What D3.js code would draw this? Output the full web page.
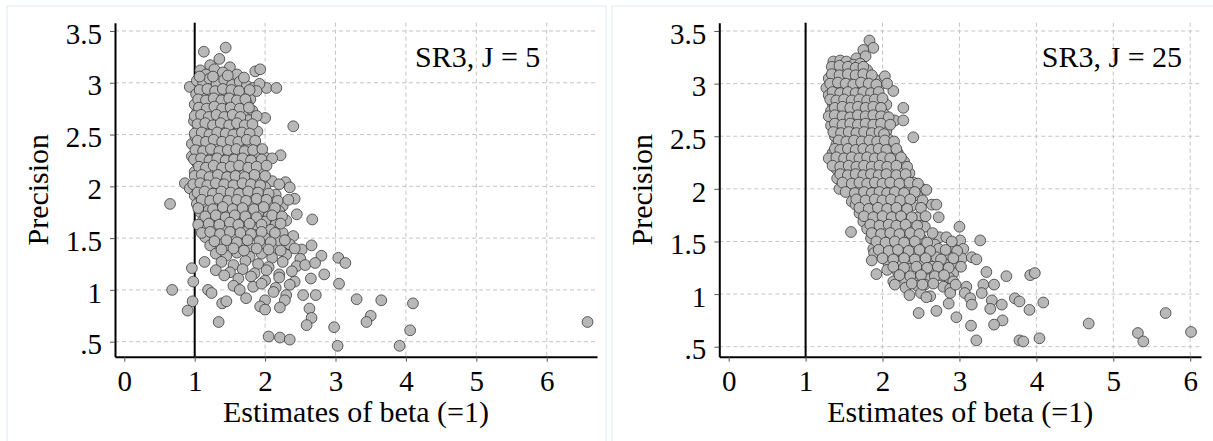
<!DOCTYPE html>
<html>
<head>
<meta charset="utf-8">
<script src="https://cdn.jsdelivr.net/npm/d3@7"></script>
<style>
  body { margin: 0; background: #fff; }
  svg text { font-family: "Liberation Serif", "Times New Roman", serif; fill: #000; }
</style>
</head>
<body>
<svg id="chart" width="1213" height="441"></svg>
<script>
// tick values / labels shared by both panels
const xTicks = [0, 1, 2, 3, 4, 5, 6]
const xTickLabels = ['0', '1', '2', '3', '4', '5', '6']
const yTicks = [0.5, 1, 1.5, 2, 2.5, 3, 3.5]
const yTickLabels = ['.5', '1', '1.5', '2', '2.5', '3', '3.5']
const refLine = 1
const xTitle = 'Estimates of beta (=1)'
const yTitle = 'Precision'
const labelJ5 = 'SR3, J = 5'
const labelJ25 = 'SR3, J = 25'

// [estimate, precision]
const sr3J5 = [
  [1.13,3.30],[1.44,3.34],[1.35,3.23],[1.22,3.17],[1.08,3.12],[1.28,3.13],[1.50,3.15],[1.16,3.08],[1.40,3.10],[1.60,3.08],[1.86,3.11],[1.93,3.13],
  [0.93,2.96],[1.03,3.02],[1.12,3.00],[1.21,3.04],[1.31,2.99],[1.42,3.03],[1.53,2.98],[1.64,3.01],[1.74,2.97],[1.83,2.95],[2.02,2.95],[2.16,2.95],[1.92,2.99],
  [1.02,2.89],[1.12,2.86],[1.23,2.90],[1.34,2.87],[1.46,2.91],[1.57,2.86],[1.69,2.89],[1.79,2.84],[1.88,2.92],
  [1.00,2.79],[1.09,2.82],[1.19,2.78],[1.30,2.81],[1.41,2.77],[1.52,2.82],[1.63,2.78],[1.74,2.80],
  [1.03,2.71],[1.14,2.73],[1.25,2.69],[1.36,2.74],[1.47,2.70],[1.59,2.72],[1.70,2.68],[1.82,2.73],
  [0.99,2.63],[1.10,2.65],[1.20,2.61],[1.31,2.64],[1.42,2.60],[1.54,2.66],[1.66,2.62],[1.77,2.64],[2.00,2.66],
  [1.05,2.56],[1.16,2.53],[1.27,2.57],[1.38,2.54],[1.50,2.58],[1.61,2.52],[1.72,2.55],[1.89,2.53],[2.40,2.58],
  [0.96,2.41],[1.01,2.48],[1.11,2.46],[1.22,2.49],[1.33,2.45],[1.45,2.48],[1.56,2.44],[1.68,2.47],[1.80,2.43],
  [1.07,2.39],[1.18,2.37],[1.29,2.41],[1.41,2.38],[1.53,2.40],[1.65,2.36],[1.77,2.39],[1.90,2.35],
  [0.96,2.29],[1.04,2.31],[1.13,2.29],[1.24,2.33],[1.36,2.30],[1.48,2.28],[1.60,2.32],[1.72,2.29],[1.85,2.31],[2.00,2.28],[2.22,2.30],
  [1.03,2.23],[1.15,2.21],[1.27,2.25],[1.39,2.22],[1.50,2.20],[1.62,2.24],[1.75,2.21],[1.90,2.23],
  [1.00,2.14],[1.10,2.17],[1.21,2.13],[1.33,2.16],[1.45,2.12],[1.57,2.15],[1.70,2.11],[1.82,2.16],[1.95,2.13],
  [1.05,2.06],[1.16,2.08],[1.27,2.04],[1.40,2.07],[1.52,2.03],[1.65,2.06],[1.78,2.02],[1.92,2.07],[2.10,2.05],
  [0.86,2.03],[0.93,1.98],[1.02,2.00],[1.12,1.96],[1.24,2.00],[1.35,1.97],[1.48,2.01],[1.60,1.96],[1.73,1.99],[1.87,1.95],[2.00,1.99],[2.29,2.04],[2.35,1.99],
  [1.00,1.91],[1.08,1.88],[1.20,1.92],[1.32,1.89],[1.45,1.93],[1.57,1.88],[1.70,1.91],[1.82,1.87],[1.97,1.90],[2.15,1.92],[2.42,1.88],
  [0.65,1.83],[1.03,1.83],[1.15,1.80],[1.27,1.84],[1.40,1.81],[1.52,1.85],[1.65,1.79],[1.80,1.83],[1.95,1.80],[2.10,1.84],[2.25,1.81],
  [1.08,1.75],[1.20,1.77],[1.33,1.73],[1.47,1.76],[1.60,1.72],[1.75,1.77],[1.90,1.74],[2.05,1.71],[2.20,1.76],[2.45,1.73],
  [1.12,1.67],[1.25,1.69],[1.38,1.65],[1.52,1.68],[1.65,1.64],[1.82,1.69],[2.00,1.66],[2.15,1.63],[2.30,1.67],[2.67,1.68],
  [1.05,1.63],[1.18,1.59],[1.30,1.61],[1.45,1.57],[1.58,1.60],[1.72,1.56],[1.90,1.59],[2.08,1.58],[2.25,1.55],
  [1.15,1.51],[1.28,1.53],[1.40,1.49],[1.55,1.52],[1.70,1.48],[1.85,1.53],[2.00,1.50],[2.20,1.47],[2.40,1.52],
  [1.22,1.43],[1.35,1.45],[1.50,1.41],[1.65,1.44],[1.80,1.40],[1.98,1.43],[2.12,1.39],[2.35,1.44],[2.52,1.39],[2.66,1.43],
  [1.30,1.35],[1.45,1.33],[1.60,1.36],[1.78,1.32],[1.95,1.35],[2.10,1.31],[2.30,1.34],[2.50,1.30],[2.80,1.33],
  [1.14,1.27],[1.38,1.27],[1.55,1.24],[1.72,1.28],[1.90,1.25],[2.05,1.22],[2.25,1.27],[2.45,1.23],[2.57,1.24],[2.71,1.26],[3.04,1.31],[3.14,1.26],
  [0.96,1.21],[1.30,1.19],[1.50,1.17],[1.68,1.20],[1.85,1.16],[2.02,1.19],[2.20,1.15],[2.38,1.18],[2.84,1.15],
  [1.42,1.14],[1.62,1.11],[1.80,1.13],[2.00,1.09],[2.20,1.12],[2.42,1.08],[2.65,1.11],[3.05,1.06],
  [0.98,1.08],[1.55,1.04],[1.83,1.03],[1.95,1.06],[2.15,1.02],[2.35,1.05],
  [0.68,1.00],[1.19,1.00],[1.24,0.97],[1.64,1.00],[2.12,0.98],[2.30,0.95],[2.54,0.95],[2.72,0.95],
  [0.97,0.89],[1.39,0.87],[1.45,0.89],[1.73,0.92],[2.00,0.90],[2.28,0.90],[3.30,0.91],[3.65,0.90],[4.10,0.87],
  [0.90,0.80],[1.93,0.84],[2.00,0.81],[2.21,0.83],[2.63,0.82],
  [1.34,0.69],[2.66,0.73],[2.59,0.66],[3.50,0.75],[3.44,0.69],[2.98,0.64],[4.06,0.61],[6.58,0.69],
  [2.05,0.55],[2.21,0.54],[2.35,0.52],[3.03,0.46],[3.91,0.46]
]

// the packed middle of the J = 5 cloud
const sr3J5Core = [
  [1.07,3.06],[1.26,3.06],[1.47,3.07],[1.70,3.05],
  [1.07,2.93],[1.18,2.94],[1.29,2.92],[1.40,2.94],[1.52,2.93],[1.63,2.92],[1.78,2.93],
  [1.05,2.84],[1.16,2.83],[1.27,2.85],[1.38,2.83],[1.49,2.85],[1.60,2.83],[1.72,2.84],
  [1.06,2.76],[1.17,2.75],[1.28,2.77],[1.39,2.75],[1.51,2.76],[1.64,2.75],[1.77,2.76],
  [1.00,2.68],[1.09,2.69],[1.20,2.67],[1.31,2.69],[1.42,2.67],[1.54,2.69],[1.65,2.67],[1.88,2.68],
  [1.04,2.60],[1.15,2.61],[1.26,2.59],[1.37,2.61],[1.49,2.59],[1.60,2.61],[1.71,2.59],[1.82,2.60],
  [1.00,2.51],[1.10,2.52],[1.21,2.50],[1.32,2.52],[1.44,2.51],[1.55,2.50],[1.67,2.52],[1.78,2.51],
  [1.04,2.44],[1.16,2.43],[1.27,2.45],[1.39,2.43],[1.51,2.44],[1.62,2.43],[1.74,2.45],[1.86,2.44],
  [1.01,2.35],[1.12,2.34],[1.23,2.36],[1.35,2.34],[1.47,2.35],[1.59,2.36],[1.71,2.34],[1.83,2.35],[1.96,2.36],
  [0.99,2.26],[1.09,2.27],[1.21,2.25],[1.32,2.27],[1.44,2.25],[1.56,2.26],[1.68,2.27],[1.80,2.25],[1.95,2.26],[2.10,2.27],
  [1.06,2.19],[1.16,2.18],[1.27,2.20],[1.39,2.18],[1.51,2.19],[1.63,2.20],[1.76,2.18],[1.88,2.19],[2.02,2.20],
  [1.00,2.10],[1.10,2.11],[1.21,2.09],[1.33,2.11],[1.46,2.09],[1.58,2.10],[1.71,2.09],[1.85,2.11],[2.00,2.10],
  [0.98,2.02],[1.08,2.03],[1.18,2.01],[1.30,2.03],[1.42,2.02],[1.55,2.01],[1.68,2.03],[1.80,2.02],[1.93,2.01],[2.20,2.02],
  [1.04,1.94],[1.14,1.95],[1.26,1.93],[1.38,1.95],[1.51,1.94],[1.63,1.93],[1.76,1.95],[1.90,1.94],[2.05,1.93],
  [1.10,1.87],[1.22,1.86],[1.34,1.88],[1.47,1.86],[1.60,1.87],[1.73,1.86],[1.88,1.88],[2.02,1.87],[2.18,1.86],[2.33,1.87],
  [1.05,1.79],[1.26,1.78],[1.40,1.80],[1.54,1.78],[1.68,1.79],[1.84,1.78],[1.98,1.80],[2.14,1.79],
  [1.15,1.71],[1.30,1.72],[1.44,1.70],[1.57,1.72],[1.72,1.71],[1.88,1.70],[2.10,1.72],[2.24,1.71],
  [1.20,1.64],[1.35,1.63],[1.50,1.65],[1.62,1.63],[1.78,1.64],[1.95,1.63],[2.22,1.64],
  [1.10,1.55],[1.22,1.56],[1.36,1.54],[1.50,1.56],[1.65,1.55],[1.80,1.54],[1.95,1.56],[2.14,1.55],
  [1.28,1.47],[1.45,1.48],[1.60,1.46],[1.75,1.48],[1.92,1.47],[2.08,1.46],[2.28,1.48],
  [1.38,1.39],[1.55,1.40],[1.70,1.38],[1.88,1.40],[2.05,1.39],[2.22,1.38],[2.42,1.40]
]

const sr3J25 = [
  [1.83,3.41],[1.88,3.34],[1.75,3.32],[1.66,3.24],[1.78,3.26],
  [1.36,3.21],[1.45,3.22],[1.53,3.21],[1.62,3.18],[1.71,3.19],
  [1.40,3.13],[1.50,3.11],[1.60,3.14],[1.70,3.10],[1.80,3.13],
  [1.30,3.05],[1.38,3.03],[1.48,3.06],[1.58,3.02],[1.68,3.05],[1.78,3.01],[1.90,3.04],[2.03,3.07],
  [1.27,2.96],[1.35,2.98],[1.45,2.94],[1.55,2.97],[1.65,2.93],[1.75,2.98],[1.85,2.95],[1.95,2.97],[2.14,2.93],
  [1.30,2.89],[1.40,2.87],[1.50,2.90],[1.60,2.86],[1.70,2.89],[1.80,2.85],[1.90,2.88],[2.00,2.84],
  [1.35,2.81],[1.45,2.83],[1.55,2.79],[1.65,2.82],[1.75,2.78],[1.85,2.81],[1.95,2.77],[2.05,2.80],
  [1.33,2.74],[1.42,2.71],[1.52,2.75],[1.62,2.72],[1.72,2.76],[1.82,2.70],[1.92,2.73],[2.02,2.71],[2.27,2.77],
  [1.35,2.65],[1.45,2.67],[1.55,2.63],[1.65,2.66],[1.75,2.62],[1.85,2.67],[1.95,2.64],[2.16,2.65],[2.27,2.65],
  [1.33,2.60],[1.43,2.57],[1.53,2.59],[1.63,2.55],[1.73,2.58],[1.83,2.56],[1.93,2.59],[2.05,2.55],
  [1.38,2.50],[1.48,2.48],[1.58,2.51],[1.68,2.47],[1.78,2.50],[1.88,2.46],[1.98,2.49],[2.08,2.47],[2.40,2.49],
  [1.40,2.42],[1.50,2.40],[1.60,2.43],[1.70,2.39],[1.80,2.41],[1.90,2.38],[2.00,2.42],[2.12,2.39],
  [1.35,2.34],[1.45,2.32],[1.55,2.35],[1.65,2.31],[1.75,2.34],[1.85,2.30],[1.95,2.33],[2.05,2.31],[2.20,2.34],
  [1.30,2.29],[1.42,2.26],[1.52,2.24],[1.62,2.27],[1.72,2.23],[1.82,2.26],[1.92,2.22],[2.02,2.25],[2.15,2.22],[2.28,2.26],
  [1.40,2.19],[1.50,2.17],[1.60,2.20],[1.70,2.16],[1.80,2.19],[1.90,2.15],[2.00,2.18],[2.10,2.14],[2.22,2.17],[2.35,2.15],
  [1.41,2.10],[1.55,2.08],[1.65,2.11],[1.75,2.07],[1.85,2.10],[1.95,2.06],[2.05,2.09],[2.15,2.05],[2.28,2.08],[2.40,2.06],
  [1.44,2.00],[1.58,2.02],[1.70,1.99],[1.80,2.03],[1.90,1.98],[2.00,2.01],[2.10,1.97],[2.22,2.00],[2.35,1.98],[2.51,2.00],[2.57,1.99],
  [1.60,1.88],[1.72,1.93],[1.84,1.90],[1.95,1.94],[2.05,1.91],[2.17,1.95],[2.30,1.92],[2.45,1.94],
  [1.65,1.85],[1.77,1.83],[1.88,1.86],[2.00,1.82],[2.12,1.85],[2.25,1.81],[2.38,1.84],[2.64,1.85],[2.70,1.85],
  [1.70,1.77],[1.82,1.79],[1.94,1.75],[2.05,1.78],[2.17,1.74],[2.30,1.77],[2.45,1.73],[2.73,1.73],
  [1.75,1.69],[1.87,1.71],[1.98,1.67],[2.10,1.70],[2.22,1.66],[2.35,1.69],[2.50,1.65],
  [1.59,1.59],[1.80,1.62],[1.92,1.60],[2.03,1.63],[2.15,1.59],[2.28,1.62],[2.42,1.58],[2.55,1.64],[3.00,1.64],
  [1.85,1.53],[1.97,1.55],[2.10,1.51],[2.22,1.54],[2.35,1.50],[2.50,1.53],[2.74,1.54],[2.83,1.54],[3.01,1.51],[3.27,1.51],
  [1.88,1.43],[2.00,1.46],[2.12,1.42],[2.25,1.45],[2.40,1.41],[2.55,1.44],[2.68,1.47],[2.73,1.43],[2.90,1.45],[3.05,1.43],
  [1.89,1.39],[2.05,1.37],[2.18,1.39],[2.32,1.35],[2.46,1.38],[2.60,1.34],[2.70,1.35],[2.88,1.35],[3.03,1.34],[3.16,1.35],[3.22,1.33],
  [1.86,1.32],[2.08,1.29],[2.22,1.31],[2.36,1.27],[2.50,1.30],[2.65,1.26],[2.80,1.29],[2.95,1.27],
  [2.06,1.23],[2.20,1.21],[2.35,1.24],[2.50,1.20],[2.65,1.22],[2.77,1.23],[2.92,1.20],[3.35,1.21],[2.55,1.20],
  [1.92,1.19],[2.14,1.12],[2.28,1.15],[2.42,1.11],[2.60,1.14],[2.75,1.18],[2.86,1.16],[2.92,1.12],[3.61,1.17],[3.92,1.18],[3.98,1.20],
  [2.16,1.09],[2.30,1.06],[2.45,1.08],[2.55,1.09],[2.79,1.07],[2.88,1.05],[3.09,1.07],[3.31,1.09],[3.45,1.09],
  [2.35,0.99],[2.50,1.01],[2.62,0.98],[2.88,1.01],[3.07,1.01],[3.29,1.01],[2.57,0.97],[3.14,0.96],
  [2.47,0.82],[2.70,0.84],[2.86,0.91],[3.16,0.90],[3.42,0.94],[3.40,0.86],[3.55,0.90],[3.72,0.96],[3.78,0.93],[3.91,0.85],[4.09,0.92],
  [2.96,0.78],[3.15,0.70],[3.56,0.75],[3.45,0.71],[4.68,0.72],[5.68,0.82],[6.01,0.64],[5.32,0.63],[5.39,0.55],
  [3.22,0.56],[3.78,0.56],[3.83,0.55],[4.04,0.58]
]

// the packed middle of the J = 25 cloud
const sr3J25Core = [
  [1.34,3.16],[1.44,3.17],[1.55,3.16],[1.65,3.15],[1.75,3.16],
  [1.34,3.09],[1.44,3.08],[1.55,3.09],[1.65,3.08],[1.75,3.09],[1.86,3.08],
  [1.32,3.00],[1.42,3.01],[1.52,3.00],[1.62,2.99],[1.72,3.01],[1.82,3.00],[1.92,2.99],[2.06,3.00],
  [1.35,2.92],[1.45,2.91],[1.55,2.92],[1.65,2.91],[1.75,2.92],[1.85,2.91],[1.95,2.92],
  [1.32,2.85],[1.40,2.84],[1.50,2.85],[1.60,2.84],[1.70,2.85],[1.80,2.84],[1.90,2.85],[2.00,2.86],
  [1.38,2.77],[1.48,2.78],[1.58,2.77],[1.68,2.78],[1.78,2.77],[1.88,2.78],[1.98,2.77],
  [1.30,2.69],[1.38,2.70],[1.48,2.69],[1.58,2.68],[1.68,2.70],[1.78,2.69],[1.88,2.70],[1.98,2.69],[2.08,2.68],
  [1.38,2.62],[1.48,2.61],[1.58,2.62],[1.68,2.61],[1.78,2.62],[1.88,2.61],[1.98,2.62],[2.10,2.61],
  [1.36,2.54],[1.46,2.53],[1.56,2.54],[1.66,2.53],[1.76,2.54],[1.86,2.53],[1.96,2.54],[2.02,2.52],
  [1.43,2.46],[1.53,2.45],[1.63,2.46],[1.73,2.45],[1.83,2.46],[1.93,2.45],[2.03,2.46],[2.15,2.45],
  [1.38,2.38],[1.45,2.37],[1.55,2.38],[1.65,2.37],[1.75,2.38],[1.85,2.37],[1.95,2.38],[2.05,2.37],[2.18,2.38],
  [1.40,2.30],[1.50,2.29],[1.60,2.30],[1.70,2.29],[1.80,2.30],[1.90,2.29],[2.00,2.30],[2.10,2.29],[2.24,2.30],
  [1.35,2.22],[1.45,2.21],[1.56,2.22],[1.66,2.21],[1.76,2.22],[1.86,2.21],[1.96,2.22],[2.06,2.21],[2.18,2.22],[2.32,2.21],
  [1.45,2.14],[1.55,2.13],[1.65,2.14],[1.75,2.13],[1.85,2.14],[1.95,2.13],[2.05,2.14],[2.18,2.13],[2.30,2.14],
  [1.48,2.06],[1.60,2.05],[1.70,2.06],[1.80,2.05],[1.90,2.06],[2.00,2.05],[2.10,2.06],[2.22,2.05],[2.35,2.06],[2.46,2.05],
  [1.52,1.97],[1.64,1.96],[1.76,1.97],[1.86,1.96],[1.96,1.97],[2.06,1.96],[2.16,1.97],[2.28,1.96],[2.42,1.97],
  [1.66,1.90],[1.78,1.89],[1.90,1.90],[2.00,1.89],[2.11,1.90],[2.23,1.89],[2.36,1.90],[2.52,1.89],
  [1.70,1.82],[1.82,1.81],[1.94,1.82],[2.06,1.81],[2.18,1.82],[2.32,1.81],[2.50,1.82],
  [1.76,1.74],[1.88,1.73],[2.00,1.74],[2.12,1.73],[2.24,1.74],[2.38,1.73],[2.56,1.74],
  [1.84,1.66],[1.96,1.65],[2.08,1.66],[2.18,1.65],[2.30,1.66],[2.45,1.65],
  [1.86,1.58],[1.98,1.57],[2.10,1.58],[2.22,1.57],[2.36,1.58],[2.48,1.57],[2.65,1.58],
  [1.92,1.50],[2.04,1.49],[2.16,1.50],[2.28,1.49],[2.42,1.50],[2.58,1.49],[2.90,1.50],
  [1.95,1.42],[2.08,1.41],[2.20,1.42],[2.34,1.41],[2.48,1.42],[2.62,1.41],[2.82,1.42],[2.97,1.41],
  [2.00,1.34],[2.14,1.33],[2.28,1.34],[2.42,1.33],[2.56,1.34],[2.76,1.33],[2.92,1.34],
  [2.14,1.26],[2.28,1.25],[2.44,1.26],[2.58,1.25],[2.72,1.26],[2.86,1.25],[3.02,1.26],
  [2.22,1.18],[2.36,1.17],[2.50,1.18],[2.68,1.17],[2.80,1.18],
  [2.38,1.10],[2.52,1.09],[2.66,1.10],[2.95,1.09]
]

const plotTop = 22.7
const plotBottom = 356.7

const panels = [
  { points: sr3J5.concat(sr3J5Core), label: labelJ5, frameX: 7, frameW: 599, left: 115, right: 597,
    xDomain: [-0.132, 6.714], yDomain: [0.355, 3.58], labelAt: [4.13, 3.155] },
  { points: sr3J25.concat(sr3J25Core), label: labelJ25, frameX: 612, frameW: 620, left: 719.3, right: 1201,
    xDomain: [-0.122, 6.14], yDomain: [0.405, 3.579], labelAt: [4.07, 3.16] }
]

const svg = d3.select('#chart')

const drawPanel = p => {
  const g = svg.append('g')

  // faint outer frame of each graph
  g.append('rect')
    .attr('x', p.frameX).attr('y', 6)
    .attr('width', p.frameW).attr('height', 460)
    .attr('fill', 'none')
    .attr('stroke', '#e4eaef')
    .attr('stroke-width', 1)

  const x = d3.scaleLinear().domain(p.xDomain).range([p.left, p.right])
  const y = d3.scaleLinear().domain(p.yDomain).range([plotBottom, plotTop])

  // dashed grid
  g.selectAll('line.hgrid')
    .data(yTicks)
    .enter()
    .append('line')
    .attr('x1', p.left).attr('x2', p.right)
    .attr('y1', d => y(d)).attr('y2', d => y(d))
    .attr('stroke', '#c4c4c4')
    .attr('stroke-dasharray', '4,3')
  g.selectAll('line.vgrid')
    .data(xTicks.filter(d => d > xTicks[0]))
    .enter()
    .append('line')
    .attr('x1', d => x(d)).attr('x2', d => x(d))
    .attr('y1', plotTop).attr('y2', plotBottom)
    .attr('stroke', '#c4c4c4')
    .attr('stroke-dasharray', '4,3')

  // reference line at beta = 1
  g.append('line')
    .attr('x1', x(refLine)).attr('x2', x(refLine))
    .attr('y1', plotTop).attr('y2', plotBottom)
    .attr('stroke', '#000')
    .attr('stroke-width', 2)

  g.selectAll('circle')
    .data(p.points)
    .enter()
    .append('circle')
    .attr('cx', d => x(d[0]))
    .attr('cy', d => y(d[1]))
    .attr('r', 5.4)
    .attr('fill', '#b8b8b8')
    .attr('stroke', '#3a3a3a')
    .attr('stroke-width', 0.8)

  // axes
  const xAxis = g.append('g')
    .attr('transform', `translate(0,${plotBottom})`)
    .call(d3.axisBottom(x).tickValues(xTicks).tickFormat((d, i) => xTickLabels[i])
      .tickSize(5).tickSizeOuter(0).tickPadding(9))
  const yAxis = g.append('g')
    .attr('transform', `translate(${p.left},0)`)
    .call(d3.axisLeft(y).tickValues(yTicks).tickFormat((d, i) => yTickLabels[i])
      .tickSize(5).tickSizeOuter(0).tickPadding(8))

  ;[xAxis, yAxis].forEach(a => {
    a.attr('font-family', '"Liberation Serif", "Times New Roman", serif').attr('font-size', 29)
    a.select('.domain').attr('stroke', '#000').attr('stroke-width', 2)
    a.selectAll('.tick line').attr('stroke', '#555')
    a.selectAll('.tick text').attr('fill', '#000')
  })
  yAxis.selectAll('.tick text').attr('dy', '0.42em')

  g.append('text')
    .attr('x', (p.left + p.right) / 2)
    .attr('y', 422)
    .attr('text-anchor', 'middle')
    .style('font-size', '30px')
    .text(xTitle)

  g.append('text')
    .attr('transform', `translate(${p.left - 67},${(plotTop + plotBottom) / 2}) rotate(-90)`)
    .attr('text-anchor', 'middle')
    .style('font-size', '30px')
    .text(yTitle)

  g.append('text')
    .attr('x', x(p.labelAt[0]))
    .attr('y', y(p.labelAt[1]))
    .style('font-size', '30px')
    .text(p.label)
}

panels.forEach(drawPanel)
</script>
</body>
</html>
